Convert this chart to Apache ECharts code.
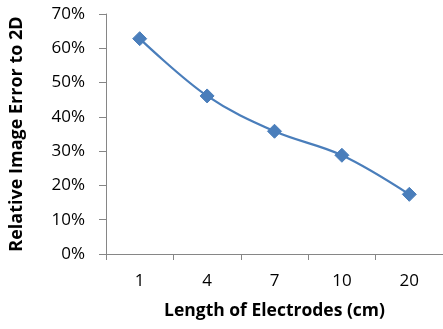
<!DOCTYPE html>
<html>
<head>
<meta charset="utf-8">
<script src="https://cdn.jsdelivr.net/npm/echarts@6/dist/echarts.min.js"></script>
<style>
  html, body { margin: 0; padding: 0; background: #ffffff; }
  #chart { width: 443px; height: 329px; }
</style>
</head>
<body>
<div id="chart"></div>
<script>
// Electrode length (cm) categories and relative image error (%) vs. 2D
const lengths = ['1', '4', '7', '10', '20'];
const relativeError = [62.8, 46.1, 35.8, 28.8, 17.4];
const yTicks = { min: 0, max: 70, step: 10 };

const FONT = '"Open Sans", sans-serif';
const axisGray = '#868686';

const chart = echarts.init(document.getElementById('chart'), null, { renderer: 'canvas' });
chart.setOption({
  animation: false,
  backgroundColor: '#ffffff',
  grid: { left: 106, top: 14, width: 340, height: 240, containLabel: false },
  xAxis: {
    type: 'category',
    data: lengths,
    boundaryGap: true,
    name: 'Length of Electrodes (cm)',
    nameLocation: 'middle',
    nameGap: 48,
    nameTextStyle: { fontFamily: FONT, fontWeight: 'bold', fontSize: 17.5, color: '#000' },
    axisLine: { lineStyle: { color: axisGray, width: 1 } },
    axisTick: { show: true, length: 6, lineStyle: { color: axisGray } },
    axisLabel: { fontFamily: FONT, fontSize: 17, color: '#000', margin: 19 },
    splitLine: { show: false }
  },
  yAxis: {
    type: 'value',
    min: yTicks.min,
    max: yTicks.max,
    interval: yTicks.step,
    name: 'Relative Image Error to 2D',
    nameLocation: 'middle',
    nameGap: 80,
    nameRotate: 90,
    nameTextStyle: { fontFamily: FONT, fontWeight: 'bold', fontSize: 18, color: '#000' },
    axisLine: { show: true, lineStyle: { color: axisGray, width: 1 } },
    axisTick: { show: true, length: 7, lineStyle: { color: axisGray } },
    axisLabel: { fontFamily: FONT, fontSize: 17, color: '#000', margin: 21, formatter: '{value}%' },
    splitLine: { show: false }
  },
  series: [{
    type: 'line',
    data: relativeError,
    smooth: 0.35,
    symbol: 'diamond',
    symbolSize: 14,
    lineStyle: { color: '#4A7EBB', width: 2.25 },
    itemStyle: { color: '#4A7EBB', borderColor: '#4A7EBB' }
  }]
});
</script>
</body>
</html>
